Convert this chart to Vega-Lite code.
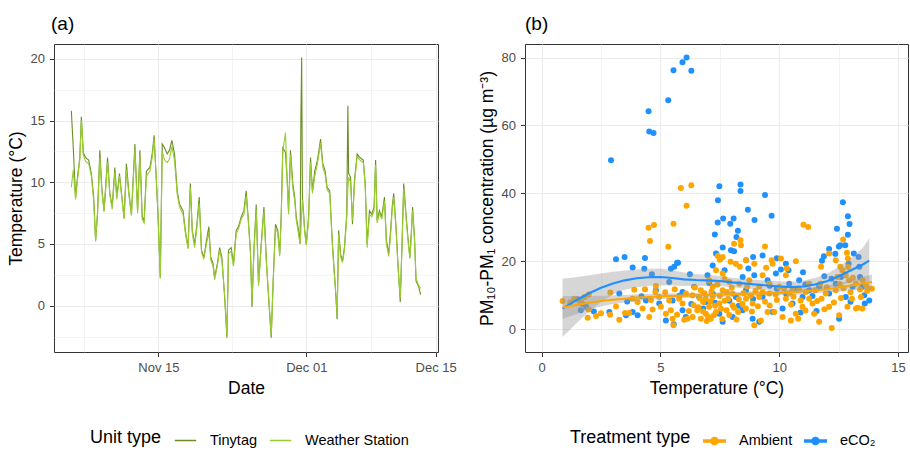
{
  "$schema": "https://vega.github.io/schema/vega-lite/v6.json",
  "background": "white",
  "padding": {"left": 6, "top": 14, "right": 0, "bottom": 0},
  "config": {
    "font": "Liberation Sans",
    "view": {"stroke": "#333333", "strokeWidth": 1},
    "axis": {
      "domain": false,
      "tickColor": "#333333",
      "tickSize": 4.5,
      "labelColor": "#4D4D4D",
      "labelFontSize": 13,
      "labelFont": "Liberation Sans",
      "titleFont": "Liberation Sans",
      "titleFontSize": 17.5,
      "titleFontWeight": "normal",
      "titleColor": "#000000",
      "gridColor": "#EBEBEB",
      "labelPadding": 5,
      "titlePadding": 5
    },
    "legend": {
      "orient": "none",
      "direction": "horizontal",
      "titleOrient": "left",
      "titleFontSize": 18,
      "titleFontWeight": "normal",
      "titleColor": "#000000",
      "labelFontSize": 14.5,
      "labelColor": "#000000",
      "labelFont": "Liberation Sans",
      "titleFont": "Liberation Sans",
      "symbolSize": 460,
      "columnPadding": 8,
      "labelOffset": 13,
      "titlePadding": 12
    },
    "title": {"anchor": "start", "frame": "group", "fontSize": 19, "fontWeight": "normal", "color": "#000000", "offset": 10, "font": "Liberation Sans"}
  },
  "datasets": {
    "temps": [
      {"date":"2019-11-05T14:00","Tinytag":15.8,"Weather Station":9.6},
      {"date":"2019-11-05T19:00","Tinytag":12.8,"Weather Station":11.0},
      {"date":"2019-11-06T01:00","Tinytag":8.8,"Weather Station":8.6},
      {"date":"2019-11-06T06:00","Tinytag":10.4,"Weather Station":10.2},
      {"date":"2019-11-06T12:00","Tinytag":12.0,"Weather Station":11.8},
      {"date":"2019-11-06T16:00","Tinytag":15.3,"Weather Station":15.0},
      {"date":"2019-11-06T21:00","Tinytag":12.4,"Weather Station":12.2},
      {"date":"2019-11-07T03:00","Tinytag":12.0,"Weather Station":11.7},
      {"date":"2019-11-07T11:00","Tinytag":11.8,"Weather Station":11.5},
      {"date":"2019-11-07T18:00","Tinytag":10.7,"Weather Station":10.5},
      {"date":"2019-11-08T00:00","Tinytag":8.8,"Weather Station":8.5},
      {"date":"2019-11-08T05:00","Tinytag":5.3,"Weather Station":5.2},
      {"date":"2019-11-08T10:00","Tinytag":7.4,"Weather Station":7.6},
      {"date":"2019-11-08T16:00","Tinytag":12.6,"Weather Station":12.0},
      {"date":"2019-11-08T21:00","Tinytag":9.6,"Weather Station":9.4},
      {"date":"2019-11-09T03:00","Tinytag":7.7,"Weather Station":7.6},
      {"date":"2019-11-09T12:00","Tinytag":12.0,"Weather Station":11.6},
      {"date":"2019-11-09T18:00","Tinytag":9.1,"Weather Station":9.0},
      {"date":"2019-11-10T00:00","Tinytag":8.0,"Weather Station":7.8},
      {"date":"2019-11-10T07:00","Tinytag":11.2,"Weather Station":10.8},
      {"date":"2019-11-10T12:00","Tinytag":8.8,"Weather Station":8.6},
      {"date":"2019-11-10T19:00","Tinytag":10.7,"Weather Station":10.5},
      {"date":"2019-11-11T07:00","Tinytag":7.1,"Weather Station":7.0},
      {"date":"2019-11-11T13:00","Tinytag":11.5,"Weather Station":11.0},
      {"date":"2019-11-11T19:00","Tinytag":9.3,"Weather Station":9.1},
      {"date":"2019-11-12T02:00","Tinytag":7.4,"Weather Station":7.3},
      {"date":"2019-11-12T11:00","Tinytag":13.1,"Weather Station":12.7},
      {"date":"2019-11-12T18:00","Tinytag":7.7,"Weather Station":7.5},
      {"date":"2019-11-13T00:00","Tinytag":12.6,"Weather Station":12.2},
      {"date":"2019-11-13T06:00","Tinytag":7.2,"Weather Station":7.0},
      {"date":"2019-11-13T11:00","Tinytag":6.9,"Weather Station":6.7},
      {"date":"2019-11-13T17:00","Tinytag":10.9,"Weather Station":10.5},
      {"date":"2019-11-14T02:00","Tinytag":11.2,"Weather Station":10.9},
      {"date":"2019-11-14T08:00","Tinytag":12.3,"Weather Station":12.0},
      {"date":"2019-11-14T13:00","Tinytag":13.8,"Weather Station":13.5},
      {"date":"2019-11-14T20:00","Tinytag":9.3,"Weather Station":9.5},
      {"date":"2019-11-14T23:00","Tinytag":7.4,"Weather Station":7.3},
      {"date":"2019-11-15T05:00","Tinytag":2.3,"Weather Station":2.2},
      {"date":"2019-11-15T10:00","Tinytag":13.1,"Weather Station":12.5},
      {"date":"2019-11-15T16:00","Tinytag":12.8,"Weather Station":11.8},
      {"date":"2019-11-15T23:00","Tinytag":12.3,"Weather Station":11.6},
      {"date":"2019-11-16T05:00","Tinytag":12.6,"Weather Station":11.9},
      {"date":"2019-11-16T11:00","Tinytag":13.4,"Weather Station":12.9},
      {"date":"2019-11-16T18:00","Tinytag":12.3,"Weather Station":11.7},
      {"date":"2019-11-17T01:00","Tinytag":9.3,"Weather Station":9.0},
      {"date":"2019-11-17T07:00","Tinytag":8.2,"Weather Station":8.0},
      {"date":"2019-11-17T16:00","Tinytag":7.7,"Weather Station":7.4},
      {"date":"2019-11-17T22:00","Tinytag":6.1,"Weather Station":5.9},
      {"date":"2019-11-18T05:00","Tinytag":4.7,"Weather Station":4.6},
      {"date":"2019-11-18T11:00","Tinytag":9.9,"Weather Station":9.6},
      {"date":"2019-11-18T16:00","Tinytag":6.1,"Weather Station":5.9},
      {"date":"2019-11-18T22:00","Tinytag":5.0,"Weather Station":4.7},
      {"date":"2019-11-19T04:00","Tinytag":6.6,"Weather Station":6.3},
      {"date":"2019-11-19T10:00","Tinytag":8.8,"Weather Station":8.3},
      {"date":"2019-11-19T16:00","Tinytag":4.5,"Weather Station":4.3},
      {"date":"2019-11-19T22:00","Tinytag":3.9,"Weather Station":3.8},
      {"date":"2019-11-20T05:00","Tinytag":5.3,"Weather Station":5.0},
      {"date":"2019-11-20T11:00","Tinytag":6.4,"Weather Station":6.0},
      {"date":"2019-11-20T16:00","Tinytag":3.9,"Weather Station":3.7},
      {"date":"2019-11-20T22:00","Tinytag":3.4,"Weather Station":3.2},
      {"date":"2019-11-21T02:00","Tinytag":2.3,"Weather Station":2.1},
      {"date":"2019-11-21T09:00","Tinytag":3.4,"Weather Station":3.2},
      {"date":"2019-11-21T15:00","Tinytag":4.7,"Weather Station":4.5},
      {"date":"2019-11-21T21:00","Tinytag":3.9,"Weather Station":3.6},
      {"date":"2019-11-22T04:00","Tinytag":0.7,"Weather Station":0.9},
      {"date":"2019-11-22T10:00","Tinytag":-2.6,"Weather Station":-2.4},
      {"date":"2019-11-22T14:00","Tinytag":4.5,"Weather Station":4.2},
      {"date":"2019-11-22T21:00","Tinytag":4.7,"Weather Station":4.4},
      {"date":"2019-11-23T03:00","Tinytag":3.4,"Weather Station":3.2},
      {"date":"2019-11-23T10:00","Tinytag":6.1,"Weather Station":5.8},
      {"date":"2019-11-23T16:00","Tinytag":6.4,"Weather Station":6.2},
      {"date":"2019-11-23T23:00","Tinytag":7.2,"Weather Station":7.0},
      {"date":"2019-11-24T06:00","Tinytag":7.7,"Weather Station":7.4},
      {"date":"2019-11-24T12:00","Tinytag":9.3,"Weather Station":8.9},
      {"date":"2019-11-24T17:00","Tinytag":7.2,"Weather Station":7.0},
      {"date":"2019-11-24T23:00","Tinytag":4.5,"Weather Station":4.3},
      {"date":"2019-11-25T03:00","Tinytag":-0.1,"Weather Station":0.2},
      {"date":"2019-11-25T08:00","Tinytag":4.5,"Weather Station":4.3},
      {"date":"2019-11-25T14:00","Tinytag":8.2,"Weather Station":7.8},
      {"date":"2019-11-25T20:00","Tinytag":1.8,"Weather Station":1.6},
      {"date":"2019-11-26T03:00","Tinytag":5.0,"Weather Station":4.8},
      {"date":"2019-11-26T10:00","Tinytag":8.0,"Weather Station":7.6},
      {"date":"2019-11-26T16:00","Tinytag":3.9,"Weather Station":3.7},
      {"date":"2019-11-26T22:00","Tinytag":0.7,"Weather Station":0.9},
      {"date":"2019-11-27T05:00","Tinytag":-2.6,"Weather Station":-2.4},
      {"date":"2019-11-27T10:00","Tinytag":2.0,"Weather Station":1.8},
      {"date":"2019-11-27T16:00","Tinytag":6.6,"Weather Station":6.3},
      {"date":"2019-11-27T22:00","Tinytag":6.1,"Weather Station":5.9},
      {"date":"2019-11-28T03:00","Tinytag":4.2,"Weather Station":4.0},
      {"date":"2019-11-28T07:00","Tinytag":7.4,"Weather Station":7.2},
      {"date":"2019-11-28T11:00","Tinytag":12.8,"Weather Station":12.5},
      {"date":"2019-11-28T18:00","Tinytag":12.4,"Weather Station":14.0},
      {"date":"2019-11-28T23:00","Tinytag":9.9,"Weather Station":9.6},
      {"date":"2019-11-29T02:00","Tinytag":7.7,"Weather Station":7.4},
      {"date":"2019-11-29T07:00","Tinytag":12.6,"Weather Station":12.2},
      {"date":"2019-11-29T13:00","Tinytag":9.9,"Weather Station":9.5},
      {"date":"2019-11-29T18:00","Tinytag":8.8,"Weather Station":8.5},
      {"date":"2019-11-29T22:00","Tinytag":7.2,"Weather Station":6.9},
      {"date":"2019-11-30T04:00","Tinytag":6.1,"Weather Station":5.8},
      {"date":"2019-11-30T08:00","Tinytag":5.0,"Weather Station":5.0},
      {"date":"2019-11-30T10:00","Tinytag":15.0,"Weather Station":6.0},
      {"date":"2019-11-30T12:00","Tinytag":20.1,"Weather Station":7.5},
      {"date":"2019-11-30T14:00","Tinytag":8.8,"Weather Station":8.6},
      {"date":"2019-11-30T20:00","Tinytag":6.1,"Weather Station":5.9},
      {"date":"2019-12-01T00:00","Tinytag":5.0,"Weather Station":4.9},
      {"date":"2019-12-01T06:00","Tinytag":7.2,"Weather Station":6.9},
      {"date":"2019-12-01T11:00","Tinytag":12.0,"Weather Station":11.6},
      {"date":"2019-12-01T16:00","Tinytag":9.3,"Weather Station":9.1},
      {"date":"2019-12-01T22:00","Tinytag":10.9,"Weather Station":10.5},
      {"date":"2019-12-02T05:00","Tinytag":11.8,"Weather Station":11.5},
      {"date":"2019-12-02T10:00","Tinytag":12.8,"Weather Station":12.5},
      {"date":"2019-12-02T13:00","Tinytag":13.5,"Weather Station":13.2},
      {"date":"2019-12-02T19:00","Tinytag":11.5,"Weather Station":11.2},
      {"date":"2019-12-03T01:00","Tinytag":10.9,"Weather Station":10.6},
      {"date":"2019-12-03T06:00","Tinytag":9.6,"Weather Station":9.4},
      {"date":"2019-12-03T13:00","Tinytag":9.3,"Weather Station":9.1},
      {"date":"2019-12-03T19:00","Tinytag":5.5,"Weather Station":5.3},
      {"date":"2019-12-04T00:00","Tinytag":3.1,"Weather Station":2.9},
      {"date":"2019-12-04T05:00","Tinytag":0.7,"Weather Station":0.9},
      {"date":"2019-12-04T08:00","Tinytag":-1.1,"Weather Station":-0.8},
      {"date":"2019-12-04T12:00","Tinytag":6.1,"Weather Station":5.8},
      {"date":"2019-12-04T17:00","Tinytag":4.2,"Weather Station":4.0},
      {"date":"2019-12-04T22:00","Tinytag":3.6,"Weather Station":3.5},
      {"date":"2019-12-05T03:00","Tinytag":4.7,"Weather Station":4.5},
      {"date":"2019-12-05T09:00","Tinytag":7.4,"Weather Station":7.1},
      {"date":"2019-12-05T12:00","Tinytag":16.2,"Weather Station":9.5},
      {"date":"2019-12-05T14:00","Tinytag":10.7,"Weather Station":10.4},
      {"date":"2019-12-05T19:00","Tinytag":10.4,"Weather Station":10.0},
      {"date":"2019-12-06T00:00","Tinytag":6.6,"Weather Station":6.9},
      {"date":"2019-12-06T05:00","Tinytag":10.1,"Weather Station":9.8},
      {"date":"2019-12-06T12:00","Tinytag":12.3,"Weather Station":12.1},
      {"date":"2019-12-06T19:00","Tinytag":12.0,"Weather Station":11.8},
      {"date":"2019-12-07T04:00","Tinytag":11.8,"Weather Station":11.6},
      {"date":"2019-12-07T09:00","Tinytag":9.9,"Weather Station":9.7},
      {"date":"2019-12-07T14:00","Tinytag":5.0,"Weather Station":4.7},
      {"date":"2019-12-07T20:00","Tinytag":7.7,"Weather Station":7.4},
      {"date":"2019-12-08T02:00","Tinytag":7.4,"Weather Station":7.2},
      {"date":"2019-12-08T08:00","Tinytag":8.0,"Weather Station":7.7},
      {"date":"2019-12-08T12:00","Tinytag":11.8,"Weather Station":11.4},
      {"date":"2019-12-08T16:00","Tinytag":6.9,"Weather Station":6.7},
      {"date":"2019-12-08T22:00","Tinytag":7.7,"Weather Station":7.5},
      {"date":"2019-12-09T04:00","Tinytag":7.2,"Weather Station":7.0},
      {"date":"2019-12-09T11:00","Tinytag":8.8,"Weather Station":8.5},
      {"date":"2019-12-09T16:00","Tinytag":5.3,"Weather Station":5.0},
      {"date":"2019-12-09T22:00","Tinytag":4.2,"Weather Station":4.0},
      {"date":"2019-12-10T03:00","Tinytag":6.1,"Weather Station":5.8},
      {"date":"2019-12-10T07:00","Tinytag":8.0,"Weather Station":7.7},
      {"date":"2019-12-10T11:00","Tinytag":9.1,"Weather Station":8.8},
      {"date":"2019-12-10T17:00","Tinytag":6.4,"Weather Station":6.2},
      {"date":"2019-12-10T22:00","Tinytag":3.4,"Weather Station":3.2},
      {"date":"2019-12-11T04:00","Tinytag":0.3,"Weather Station":0.6},
      {"date":"2019-12-11T09:00","Tinytag":5.5,"Weather Station":5.2},
      {"date":"2019-12-11T13:00","Tinytag":9.9,"Weather Station":9.5},
      {"date":"2019-12-11T19:00","Tinytag":7.4,"Weather Station":7.1},
      {"date":"2019-12-12T00:00","Tinytag":5.5,"Weather Station":5.3},
      {"date":"2019-12-12T05:00","Tinytag":3.9,"Weather Station":3.8},
      {"date":"2019-12-12T08:00","Tinytag":5.5,"Weather Station":5.3},
      {"date":"2019-12-12T12:00","Tinytag":8.0,"Weather Station":7.7},
      {"date":"2019-12-12T17:00","Tinytag":5.5,"Weather Station":5.3},
      {"date":"2019-12-12T21:00","Tinytag":2.0,"Weather Station":2.2},
      {"date":"2019-12-13T03:00","Tinytag":1.6,"Weather Station":1.7},
      {"date":"2019-12-13T09:00","Tinytag":0.9,"Weather Station":1.4}
    ],
    "pm": [
      {"t":2.92,"pm":49.8,"g":"eCO₂"},{"t":4.5,"pm":64.2,"g":"eCO₂"},{"t":4.53,"pm":58.2,"g":"eCO₂"},{"t":4.71,"pm":57.8,"g":"eCO₂"},
      {"t":5.33,"pm":67.4,"g":"eCO₂"},{"t":5.55,"pm":76.3,"g":"eCO₂"},{"t":5.93,"pm":78.6,"g":"eCO₂"},{"t":6.1,"pm":80,"g":"eCO₂"},
      {"t":6.3,"pm":76.1,"g":"eCO₂"},{"t":3.13,"pm":20.6,"g":"eCO₂"},{"t":3.49,"pm":21.3,"g":"eCO₂"},{"t":3.83,"pm":18.2,"g":"eCO₂"},
      {"t":4.35,"pm":21,"g":"eCO₂"},{"t":4.32,"pm":17.8,"g":"eCO₂"},{"t":4.64,"pm":16.2,"g":"eCO₂"},{"t":5.58,"pm":18.4,"g":"eCO₂"},
      {"t":5.74,"pm":19.6,"g":"eCO₂"},{"t":6.24,"pm":16.2,"g":"eCO₂"},{"t":7.48,"pm":42.1,"g":"eCO₂"},{"t":7.42,"pm":38,"g":"eCO₂"},
      {"t":7.29,"pm":27.9,"g":"eCO₂"},{"t":7.41,"pm":31.4,"g":"eCO₂"},{"t":7.64,"pm":32.6,"g":"eCO₂"},{"t":7.94,"pm":31.1,"g":"eCO₂"},
      {"t":8.08,"pm":32.6,"g":"eCO₂"},{"t":8.2,"pm":27.2,"g":"eCO₂"},{"t":8.26,"pm":29,"g":"eCO₂"},{"t":8.37,"pm":42.6,"g":"eCO₂"},
      {"t":8.37,"pm":40.7,"g":"eCO₂"},{"t":8.68,"pm":35.2,"g":"eCO₂"},{"t":8.96,"pm":32.2,"g":"eCO₂"},{"t":9.4,"pm":39.5,"g":"eCO₂"},
      {"t":9.68,"pm":33.4,"g":"eCO₂"},{"t":7.62,"pm":24.1,"g":"eCO₂"},{"t":7.34,"pm":22.3,"g":"eCO₂"},{"t":7.2,"pm":18.8,"g":"eCO₂"},
      {"t":7.97,"pm":23.3,"g":"eCO₂"},{"t":8.1,"pm":23,"g":"eCO₂"},{"t":8.61,"pm":20.3,"g":"eCO₂"},{"t":8.9,"pm":21.3,"g":"eCO₂"},
      {"t":9.3,"pm":21.7,"g":"eCO₂"},{"t":10.28,"pm":19.3,"g":"eCO₂"},{"t":10.39,"pm":17.4,"g":"eCO₂"},{"t":12.43,"pm":29.6,"g":"eCO₂"},
      {"t":12.68,"pm":37.4,"g":"eCO₂"},{"t":12.89,"pm":33.3,"g":"eCO₂"},{"t":12.96,"pm":31,"g":"eCO₂"},{"t":12.89,"pm":27.8,"g":"eCO₂"},
      {"t":12.51,"pm":24.4,"g":"eCO₂"},{"t":12.57,"pm":24.7,"g":"eCO₂"},{"t":12.78,"pm":24.7,"g":"eCO₂"},{"t":12.1,"pm":23.6,"g":"eCO₂"},
      {"t":11.88,"pm":21.5,"g":"eCO₂"},{"t":11.8,"pm":20.2,"g":"eCO₂"},{"t":12.36,"pm":22.2,"g":"eCO₂"},{"t":13.14,"pm":22.3,"g":"eCO₂"},
      {"t":13.34,"pm":21.3,"g":"eCO₂"},{"t":12.92,"pm":19.3,"g":"eCO₂"},{"t":13.4,"pm":15.4,"g":"eCO₂"},{"t":13.58,"pm":10,"g":"eCO₂"},
      {"t":13.6,"pm":7.6,"g":"eCO₂"},{"t":13.79,"pm":8.5,"g":"eCO₂"},{"t":12.52,"pm":3.1,"g":"eCO₂"},{"t":11.57,"pm":5.4,"g":"eCO₂"},
      {"t":10.07,"pm":17.6,"g":"eCO₂"},{"t":9.86,"pm":16.4,"g":"eCO₂"},{"t":9.51,"pm":14.4,"g":"eCO₂"},{"t":8.95,"pm":15.9,"g":"eCO₂"},
      {"t":8.46,"pm":15.4,"g":"eCO₂"},{"t":6.98,"pm":15.9,"g":"eCO₂"},{"t":7.05,"pm":13.6,"g":"eCO₂"},{"t":6.42,"pm":12.5,"g":"eCO₂"},
      {"t":5.93,"pm":11,"g":"eCO₂"},{"t":5.37,"pm":13.9,"g":"eCO₂"},{"t":4.81,"pm":11.5,"g":"eCO₂"},{"t":4.04,"pm":4.1,"g":"eCO₂"},
      {"t":3.83,"pm":5.1,"g":"eCO₂"},{"t":3.55,"pm":4.1,"g":"eCO₂"},{"t":3.27,"pm":10.5,"g":"eCO₂"},{"t":2.85,"pm":5.1,"g":"eCO₂"},
      {"t":1.87,"pm":6.6,"g":"eCO₂"},{"t":1.65,"pm":5.6,"g":"eCO₂"},{"t":1.7,"pm":7.5,"g":"eCO₂"},{"t":5.23,"pm":2.6,"g":"eCO₂"},
      {"t":5.56,"pm":1.5,"g":"eCO₂"},{"t":5.93,"pm":5.6,"g":"eCO₂"},{"t":6.07,"pm":3.6,"g":"eCO₂"},{"t":6.91,"pm":8,"g":"eCO₂"},
      {"t":7.48,"pm":4.6,"g":"eCO₂"},{"t":7.62,"pm":2.2,"g":"eCO₂"},{"t":8.04,"pm":3.6,"g":"eCO₂"},{"t":8.46,"pm":5.6,"g":"eCO₂"},
      {"t":8.88,"pm":3.1,"g":"eCO₂"},{"t":9.16,"pm":2.2,"g":"eCO₂"},{"t":9.72,"pm":5.1,"g":"eCO₂"},{"t":10.14,"pm":6.1,"g":"eCO₂"},
      {"t":10.56,"pm":7.6,"g":"eCO₂"},{"t":10.98,"pm":9.5,"g":"eCO₂"},{"t":11.26,"pm":11.5,"g":"eCO₂"},{"t":11.68,"pm":12.5,"g":"eCO₂"},
      {"t":12.1,"pm":10.5,"g":"eCO₂"},{"t":12.38,"pm":13.4,"g":"eCO₂"},{"t":12.8,"pm":9.5,"g":"eCO₂"},{"t":13.09,"pm":12.5,"g":"eCO₂"},
      {"t":13.37,"pm":18.4,"g":"eCO₂"},{"t":10.42,"pm":13.4,"g":"eCO₂"},{"t":10.84,"pm":14.4,"g":"eCO₂"},{"t":10.7,"pm":11.5,"g":"eCO₂"},
      {"t":8.6,"pm":11.5,"g":"eCO₂"},{"t":8.18,"pm":9.5,"g":"eCO₂"},{"t":7.2,"pm":10.5,"g":"eCO₂"},{"t":6.63,"pm":9.5,"g":"eCO₂"},
      {"t":5.51,"pm":8.5,"g":"eCO₂"},{"t":4.95,"pm":7.6,"g":"eCO₂"},{"t":4.39,"pm":8.5,"g":"eCO₂"},{"t":5.44,"pm":17.8,"g":"eCO₂"},
      {"t":5.7,"pm":19.6,"g":"eCO₂"},{"t":9.9,"pm":11.9,"g":"eCO₂"},{"t":11.1,"pm":13.2,"g":"eCO₂"},{"t":12.2,"pm":14.9,"g":"eCO₂"},
      {"t":6.8,"pm":6.1,"g":"eCO₂"},{"t":7.3,"pm":7.8,"g":"eCO₂"},{"t":7.9,"pm":8.4,"g":"eCO₂"},{"t":8.3,"pm":6.9,"g":"eCO₂"},
      {"t":8.9,"pm":8.9,"g":"eCO₂"},{"t":9.3,"pm":9.6,"g":"eCO₂"},{"t":9.6,"pm":12.8,"g":"eCO₂"},{"t":10.3,"pm":10.3,"g":"eCO₂"},
      {"t":10.9,"pm":4.9,"g":"eCO₂"},{"t":11.4,"pm":9.8,"g":"eCO₂"},{"t":11.9,"pm":15.6,"g":"eCO₂"},{"t":12.6,"pm":15.4,"g":"eCO₂"},
      {"t":13.0,"pm":8.1,"g":"eCO₂"},{"t":13.5,"pm":12.6,"g":"eCO₂"},{"t":6.3,"pm":7.4,"g":"eCO₂"},{"t":5.8,"pm":9.9,"g":"eCO₂"},
      {"t":4.2,"pm":9.7,"g":"eCO₂"},{"t":3.6,"pm":8.2,"g":"eCO₂"},{"t":2.2,"pm":5.2,"g":"eCO₂"},{"t":1.5,"pm":8.8,"g":"eCO₂"},
      {"t":7.7,"pm":17.4,"g":"eCO₂"},{"t":8.7,"pm":17.9,"g":"eCO₂"},{"t":9.9,"pm":20.9,"g":"eCO₂"},{"t":11.0,"pm":16.8,"g":"eCO₂"},
      {"t":5.86,"pm":41.6,"g":"Ambient"},{"t":6.3,"pm":42.4,"g":"Ambient"},{"t":6.1,"pm":36.4,"g":"Ambient"},{"t":5.55,"pm":31.1,"g":"Ambient"},
      {"t":4.5,"pm":29.9,"g":"Ambient"},{"t":4.73,"pm":30.7,"g":"Ambient"},{"t":4.56,"pm":26,"g":"Ambient"},{"t":5.33,"pm":24.3,"g":"Ambient"},
      {"t":4.35,"pm":11.8,"g":"Ambient"},{"t":4.81,"pm":12.7,"g":"Ambient"},{"t":4.79,"pm":11,"g":"Ambient"},{"t":2.89,"pm":10.8,"g":"Ambient"},
      {"t":3.13,"pm":6.7,"g":"Ambient"},{"t":2.88,"pm":4.3,"g":"Ambient"},{"t":3.27,"pm":2.8,"g":"Ambient"},{"t":3.51,"pm":4.8,"g":"Ambient"},
      {"t":3.69,"pm":4.8,"g":"Ambient"},{"t":3.83,"pm":9,"g":"Ambient"},{"t":4.04,"pm":8,"g":"Ambient"},{"t":4.25,"pm":6.1,"g":"Ambient"},
      {"t":4.53,"pm":3.6,"g":"Ambient"},{"t":4.67,"pm":5.8,"g":"Ambient"},{"t":5.02,"pm":6.6,"g":"Ambient"},{"t":5.23,"pm":4.6,"g":"Ambient"},
      {"t":5.44,"pm":5.6,"g":"Ambient"},{"t":5.51,"pm":3.1,"g":"Ambient"},{"t":5.55,"pm":1.2,"g":"Ambient"},{"t":4.95,"pm":9.5,"g":"Ambient"},
      {"t":5.37,"pm":8.5,"g":"Ambient"},{"t":5.93,"pm":7.6,"g":"Ambient"},{"t":6.14,"pm":3.1,"g":"Ambient"},{"t":6.35,"pm":3.6,"g":"Ambient"},
      {"t":6.55,"pm":5.6,"g":"Ambient"},{"t":6.7,"pm":3.1,"g":"Ambient"},{"t":6.91,"pm":4.6,"g":"Ambient"},{"t":7.05,"pm":6.6,"g":"Ambient"},
      {"t":7.12,"pm":3.1,"g":"Ambient"},{"t":7.34,"pm":5.1,"g":"Ambient"},{"t":6.8,"pm":8,"g":"Ambient"},{"t":7.2,"pm":9.5,"g":"Ambient"},
      {"t":7.48,"pm":7.6,"g":"Ambient"},{"t":7.78,"pm":5.6,"g":"Ambient"},{"t":8.04,"pm":7.1,"g":"Ambient"},{"t":8.27,"pm":5.1,"g":"Ambient"},
      {"t":8.6,"pm":6.1,"g":"Ambient"},{"t":8.88,"pm":7.6,"g":"Ambient"},{"t":8.95,"pm":1.2,"g":"Ambient"},{"t":9.23,"pm":2.6,"g":"Ambient"},
      {"t":9.51,"pm":5.1,"g":"Ambient"},{"t":9.79,"pm":5.1,"g":"Ambient"},{"t":10.14,"pm":3.6,"g":"Ambient"},{"t":10.49,"pm":2.6,"g":"Ambient"},
      {"t":10.7,"pm":4.6,"g":"Ambient"},{"t":10.98,"pm":6.6,"g":"Ambient"},{"t":11.47,"pm":4.6,"g":"Ambient"},{"t":11.68,"pm":2.2,"g":"Ambient"},
      {"t":12.21,"pm":0.4,"g":"Ambient"},{"t":12.1,"pm":6.6,"g":"Ambient"},{"t":12.52,"pm":4.1,"g":"Ambient"},{"t":12.87,"pm":6.6,"g":"Ambient"},
      {"t":13.23,"pm":6.1,"g":"Ambient"},{"t":13.06,"pm":9,"g":"Ambient"},{"t":13.44,"pm":9.5,"g":"Ambient"},{"t":13.76,"pm":12,"g":"Ambient"},
      {"t":13.65,"pm":13,"g":"Ambient"},{"t":13.51,"pm":14.4,"g":"Ambient"},{"t":12.69,"pm":26.4,"g":"Ambient"},{"t":12.85,"pm":22.5,"g":"Ambient"},
      {"t":12.89,"pm":20.8,"g":"Ambient"},{"t":12.38,"pm":20.3,"g":"Ambient"},{"t":12.57,"pm":18.4,"g":"Ambient"},{"t":12.66,"pm":17.4,"g":"Ambient"},
      {"t":12.8,"pm":15.9,"g":"Ambient"},{"t":12.94,"pm":14.4,"g":"Ambient"},{"t":12.45,"pm":15.4,"g":"Ambient"},{"t":12.1,"pm":22.3,"g":"Ambient"},
      {"t":11.76,"pm":18.4,"g":"Ambient"},{"t":11.73,"pm":13.4,"g":"Ambient"},{"t":11.52,"pm":11.5,"g":"Ambient"},{"t":11.12,"pm":11,"g":"Ambient"},
      {"t":11.26,"pm":9,"g":"Ambient"},{"t":11.02,"pm":30.8,"g":"Ambient"},{"t":11.22,"pm":30.1,"g":"Ambient"},{"t":10.7,"pm":20,"g":"Ambient"},
      {"t":10.32,"pm":17.9,"g":"Ambient"},{"t":10.28,"pm":15.9,"g":"Ambient"},{"t":10.07,"pm":20.8,"g":"Ambient"},{"t":9.72,"pm":19.3,"g":"Ambient"},
      {"t":9.68,"pm":20.3,"g":"Ambient"},{"t":9.4,"pm":24.4,"g":"Ambient"},{"t":9.3,"pm":15.9,"g":"Ambient"},{"t":8.95,"pm":19.3,"g":"Ambient"},
      {"t":8.6,"pm":20.3,"g":"Ambient"},{"t":8.37,"pm":26.2,"g":"Ambient"},{"t":8.39,"pm":24.7,"g":"Ambient"},{"t":8.1,"pm":25.2,"g":"Ambient"},
      {"t":8.17,"pm":19.3,"g":"Ambient"},{"t":8.34,"pm":18.4,"g":"Ambient"},{"t":7.62,"pm":21.3,"g":"Ambient"},{"t":7.41,"pm":21.6,"g":"Ambient"},
      {"t":7.62,"pm":16.4,"g":"Ambient"},{"t":7.34,"pm":17.4,"g":"Ambient"},{"t":7.05,"pm":14.4,"g":"Ambient"},{"t":7.9,"pm":13.9,"g":"Ambient"},
      {"t":8.32,"pm":13.4,"g":"Ambient"},{"t":8.74,"pm":14.4,"g":"Ambient"},{"t":9.16,"pm":12.5,"g":"Ambient"},{"t":9.58,"pm":13.4,"g":"Ambient"},
      {"t":10,"pm":12.5,"g":"Ambient"},{"t":10.42,"pm":10.5,"g":"Ambient"},{"t":10.84,"pm":12,"g":"Ambient"},{"t":9.58,"pm":10.5,"g":"Ambient"},
      {"t":9.16,"pm":9.5,"g":"Ambient"},{"t":8.6,"pm":9,"g":"Ambient"},{"t":8.04,"pm":10.5,"g":"Ambient"},{"t":7.62,"pm":11.5,"g":"Ambient"},
      {"t":7.2,"pm":12.5,"g":"Ambient"},{"t":6.7,"pm":11.5,"g":"Ambient"},{"t":6.35,"pm":10,"g":"Ambient"},{"t":6.07,"pm":10.5,"g":"Ambient"},
      {"t":5.79,"pm":9,"g":"Ambient"},{"t":6.91,"pm":9,"g":"Ambient"},{"t":10.28,"pm":9,"g":"Ambient"},{"t":10.56,"pm":11.5,"g":"Ambient"},
      {"t":11.26,"pm":13.4,"g":"Ambient"},{"t":11.96,"pm":10.5,"g":"Ambient"},{"t":12.38,"pm":11.5,"g":"Ambient"},{"t":13.23,"pm":13.4,"g":"Ambient"},
      {"t":0.88,"pm":8.3,"g":"Ambient"},{"t":1.37,"pm":9,"g":"Ambient"},{"t":1.58,"pm":8.5,"g":"Ambient"},{"t":1.8,"pm":9.5,"g":"Ambient"},
      {"t":1.98,"pm":10.2,"g":"Ambient"},{"t":1.98,"pm":5.8,"g":"Ambient"},{"t":1.94,"pm":3.4,"g":"Ambient"},{"t":2.29,"pm":3.9,"g":"Ambient"},
      {"t":1.68,"pm":7.8,"g":"Ambient"},{"t":11.78,"pm":9,"g":"Ambient"},{"t":13.9,"pm":11.9,"g":"Ambient"},{"t":13.5,"pm":6.1,"g":"Ambient"},
      {"t":13.3,"pm":6.3,"g":"Ambient"},{"t":12.3,"pm":7.9,"g":"Ambient"},{"t":6.6,"pm":6.5,"g":"Ambient"},{"t":6.8,"pm":5.2,"g":"Ambient"},
      {"t":7.0,"pm":3.8,"g":"Ambient"},{"t":7.1,"pm":8.2,"g":"Ambient"},{"t":7.3,"pm":6.9,"g":"Ambient"},{"t":7.5,"pm":9.8,"g":"Ambient"},
      {"t":7.7,"pm":8.4,"g":"Ambient"},{"t":7.9,"pm":4.2,"g":"Ambient"},{"t":8.1,"pm":6.3,"g":"Ambient"},{"t":8.3,"pm":8.8,"g":"Ambient"},
      {"t":6.4,"pm":7.1,"g":"Ambient"},{"t":6.2,"pm":5.4,"g":"Ambient"},{"t":6.0,"pm":2.8,"g":"Ambient"},{"t":5.7,"pm":4.3,"g":"Ambient"},
      {"t":7.6,"pm":3.0,"g":"Ambient"},{"t":7.8,"pm":11.0,"g":"Ambient"},{"t":8.5,"pm":10.7,"g":"Ambient"},{"t":8.8,"pm":9.9,"g":"Ambient"},
      {"t":9.0,"pm":11.3,"g":"Ambient"},{"t":9.4,"pm":8.1,"g":"Ambient"},{"t":9.9,"pm":8.6,"g":"Ambient"},{"t":10.5,"pm":7.3,"g":"Ambient"},
      {"t":10.9,"pm":8.5,"g":"Ambient"},{"t":11.4,"pm":7.6,"g":"Ambient"},{"t":11.9,"pm":5.9,"g":"Ambient"},{"t":12.6,"pm":9.2,"g":"Ambient"},
      {"t":13.0,"pm":10.9,"g":"Ambient"},{"t":13.7,"pm":11.3,"g":"Ambient"},
      {"t":6.45,"pm":12.3,"g":"Ambient"},{"t":6.65,"pm":9.1,"g":"Ambient"},{"t":6.85,"pm":10.6,"g":"Ambient"},{"t":6.95,"pm":2.4,"g":"Ambient"},
      {"t":7.15,"pm":11.2,"g":"Ambient"},{"t":7.25,"pm":4.1,"g":"Ambient"},{"t":7.4,"pm":13.2,"g":"Ambient"},{"t":7.55,"pm":6.0,"g":"Ambient"},
      {"t":7.7,"pm":14.8,"g":"Ambient"},{"t":7.85,"pm":8.9,"g":"Ambient"},{"t":8.0,"pm":12.2,"g":"Ambient"},{"t":8.2,"pm":2.9,"g":"Ambient"},
      {"t":8.45,"pm":7.4,"g":"Ambient"},{"t":8.65,"pm":12.6,"g":"Ambient"},{"t":8.85,"pm":5.2,"g":"Ambient"},{"t":9.1,"pm":6.8,"g":"Ambient"},
      {"t":9.3,"pm":10.9,"g":"Ambient"},{"t":9.6,"pm":7.0,"g":"Ambient"},{"t":9.85,"pm":10.2,"g":"Ambient"},{"t":10.2,"pm":12.0,"g":"Ambient"},
      {"t":10.6,"pm":9.6,"g":"Ambient"},{"t":10.8,"pm":3.1,"g":"Ambient"},{"t":11.1,"pm":5.5,"g":"Ambient"},{"t":11.6,"pm":8.3,"g":"Ambient"},
      {"t":12.0,"pm":12.4,"g":"Ambient"},{"t":12.7,"pm":12.1,"g":"Ambient"},{"t":13.1,"pm":15.2,"g":"Ambient"},{"t":13.4,"pm":11.7,"g":"Ambient"},
      {"t":5.2,"pm":10.9,"g":"Ambient"},{"t":5.6,"pm":11.8,"g":"Ambient"},{"t":4.6,"pm":8.6,"g":"Ambient"},{"t":3.9,"pm":11.6,"g":"Ambient"},
      {"t":2.5,"pm":4.7,"g":"Ambient"},{"t":1.2,"pm":7.9,"g":"Ambient"},{"t":9.45,"pm":18.1,"g":"Ambient"},{"t":7.95,"pm":19.9,"g":"Ambient"},
      {"t":7.5,"pm":20.5,"g":"Ambient"},{"t":12.9,"pm":18.3,"g":"Ambient"},{"t":12.55,"pm":13.3,"g":"Ambient"}
    ],
    "smooth": [
      {"t":0.88,"fit":6.1,"lo":-2.3,"hi":14.9,"g":"eCO₂"},{"t":1.5,"fit":8.7,"lo":2.0,"hi":15.4,"g":"eCO₂"},
      {"t":2.0,"fit":10.6,"lo":5.2,"hi":15.9,"g":"eCO₂"},{"t":2.5,"fit":12.2,"lo":8.0,"hi":16.4,"g":"eCO₂"},
      {"t":3.0,"fit":13.5,"lo":10.2,"hi":16.9,"g":"eCO₂"},{"t":3.5,"fit":14.4,"lo":11.6,"hi":17.3,"g":"eCO₂"},
      {"t":4.0,"fit":15.0,"lo":12.4,"hi":17.6,"g":"eCO₂"},{"t":4.5,"fit":15.3,"lo":12.8,"hi":17.8,"g":"eCO₂"},
      {"t":5.0,"fit":15.4,"lo":12.9,"hi":17.9,"g":"eCO₂"},{"t":5.5,"fit":15.1,"lo":12.9,"hi":17.4,"g":"eCO₂"},
      {"t":6.0,"fit":14.7,"lo":12.7,"hi":16.7,"g":"eCO₂"},{"t":6.5,"fit":14.5,"lo":12.7,"hi":16.3,"g":"eCO₂"},
      {"t":7.0,"fit":14.4,"lo":12.8,"hi":16.0,"g":"eCO₂"},{"t":7.5,"fit":14.2,"lo":12.7,"hi":15.7,"g":"eCO₂"},
      {"t":8.0,"fit":13.8,"lo":12.4,"hi":15.2,"g":"eCO₂"},{"t":8.5,"fit":13.5,"lo":12.1,"hi":14.9,"g":"eCO₂"},
      {"t":9.0,"fit":13.2,"lo":11.8,"hi":14.6,"g":"eCO₂"},{"t":9.5,"fit":12.9,"lo":11.5,"hi":14.3,"g":"eCO₂"},
      {"t":10.0,"fit":12.6,"lo":11.1,"hi":14.1,"g":"eCO₂"},{"t":10.5,"fit":12.4,"lo":10.8,"hi":14.0,"g":"eCO₂"},
      {"t":11.0,"fit":12.6,"lo":10.9,"hi":14.3,"g":"eCO₂"},{"t":11.5,"fit":13.2,"lo":11.3,"hi":15.1,"g":"eCO₂"},
      {"t":12.0,"fit":14.1,"lo":11.9,"hi":16.3,"g":"eCO₂"},{"t":12.5,"fit":15.6,"lo":12.9,"hi":18.3,"g":"eCO₂"},
      {"t":13.0,"fit":17.3,"lo":13.8,"hi":20.8,"g":"eCO₂"},{"t":13.5,"fit":19.0,"lo":14.2,"hi":23.8,"g":"eCO₂"},
      {"t":13.79,"fit":20.2,"lo":13.9,"hi":26.8,"g":"eCO₂"},
      {"t":0.88,"fit":6.4,"lo":3.0,"hi":9.8,"g":"Ambient"},{"t":1.5,"fit":7.2,"lo":4.6,"hi":9.8,"g":"Ambient"},
      {"t":2.0,"fit":7.8,"lo":5.8,"hi":9.8,"g":"Ambient"},{"t":2.5,"fit":8.3,"lo":6.7,"hi":9.9,"g":"Ambient"},
      {"t":3.0,"fit":8.7,"lo":7.4,"hi":10.0,"g":"Ambient"},{"t":3.5,"fit":9.0,"lo":7.9,"hi":10.1,"g":"Ambient"},
      {"t":4.0,"fit":9.3,"lo":8.3,"hi":10.3,"g":"Ambient"},{"t":4.5,"fit":9.5,"lo":8.6,"hi":10.4,"g":"Ambient"},
      {"t":5.0,"fit":9.7,"lo":8.9,"hi":10.5,"g":"Ambient"},{"t":6.0,"fit":9.9,"lo":9.2,"hi":10.6,"g":"Ambient"},
      {"t":7.0,"fit":10.1,"lo":9.4,"hi":10.8,"g":"Ambient"},{"t":8.0,"fit":10.3,"lo":9.6,"hi":11.0,"g":"Ambient"},
      {"t":9.0,"fit":10.5,"lo":9.8,"hi":11.2,"g":"Ambient"},{"t":10.0,"fit":10.7,"lo":10.0,"hi":11.4,"g":"Ambient"},
      {"t":11.0,"fit":11.1,"lo":10.3,"hi":11.9,"g":"Ambient"},{"t":12.0,"fit":11.8,"lo":10.8,"hi":12.8,"g":"Ambient"},
      {"t":13.0,"fit":12.9,"lo":11.4,"hi":14.4,"g":"Ambient"},{"t":13.9,"fit":13.9,"lo":11.7,"hi":16.1,"g":"Ambient"}
    ]
  },
  "hconcat": [
    {
      "width": 384,
      "height": 308,
      "title": {"text": "(a)", "dx": -3},
      "data": {"name": "temps"},
      "transform": [{"fold": ["Tinytag", "Weather Station"], "as": ["unit", "temp"]}],
      "mark": {"type": "line", "strokeWidth": 1.1},
      "encoding": {
        "x": {
          "field": "date", "type": "temporal", "title": "Date",
          "scale": {"domain": [{"year": 2019, "month": 11, "date": 3, "hours": 17}, {"year": 2019, "month": 12, "date": 15, "hours": 6}]},
          "axis": {
            "values": [
              {"year": 2019, "month": 11, "date": 7},
              {"year": 2019, "month": 11, "date": 15},
              {"year": 2019, "month": 11, "date": 23},
              {"year": 2019, "month": 12, "date": 1},
              {"year": 2019, "month": 12, "date": 8},
              {"year": 2019, "month": 12, "date": 15}
            ],
            "labelExpr": "date(datum.value) == 1 || date(datum.value) == 15 ? timeFormat(datum.value, '%b %d') : ''",
            "tickOpacity": {"condition": {"test": "date(datum.value) == 1 || date(datum.value) == 15", "value": 1}, "value": 0},
            "gridWidth": {"condition": {"test": "date(datum.value) == 1 || date(datum.value) == 15", "value": 1.1}, "value": 0.55}
          }
        },
        "y": {
          "field": "temp", "type": "quantitative", "title": "Temperature (°C)",
          "scale": {"domain": [-3.75, 21.2], "nice": false, "zero": false},
          "axis": {
            "values": [-2.5, 0, 2.5, 5, 7.5, 10, 12.5, 15, 17.5, 20],
            "labelExpr": "datum.value % 5 === 0 ? datum.label : ''",
            "tickOpacity": {"condition": {"test": "datum.value % 5 === 0", "value": 1}, "value": 0},
            "gridWidth": {"condition": {"test": "datum.value % 5 === 0", "value": 1.1}, "value": 0.55}
          }
        },
        "color": {
          "field": "unit", "type": "nominal", "title": "Unit type",
          "scale": {"domain": ["Tinytag", "Weather Station"], "range": ["#6B8E23", "#9ACD32"]},
          "legend": {"symbolType": "stroke", "symbolStrokeWidth": 1.5, "legendX": 36, "legendY": 385}
        }
      }
    },
    {
      "width": 383,
      "height": 308,
      "title": {"text": "(b)"},
      "layer": [
        {
          "data": {"name": "pm"},
          "mark": {"type": "point", "filled": true, "size": 36, "opacity": 1},
          "encoding": {
            "x": {
              "field": "t", "type": "quantitative", "title": "Temperature (°C)",
              "scale": {"domain": [-0.7, 15.42], "nice": false, "zero": false},
              "axis": {
                "values": [0, 2.5, 5, 7.5, 10, 12.5, 15],
                "labelExpr": "datum.value % 5 === 0 ? datum.label : ''",
                "tickOpacity": {"condition": {"test": "datum.value % 5 === 0", "value": 1}, "value": 0},
                "gridWidth": {"condition": {"test": "datum.value % 5 === 0", "value": 1.1}, "value": 0.55}
              }
            },
            "y": {
              "field": "pm", "type": "quantitative", "title": "PM₁₀-PM₁ concentration (µg m⁻³)",
              "scale": {"domain": [-6.7, 84.0], "nice": false, "zero": false},
              "axis": {
                "values": [0, 10, 20, 30, 40, 50, 60, 70, 80],
                "labelExpr": "datum.value % 20 === 0 ? datum.label : ''",
                "tickOpacity": {"condition": {"test": "datum.value % 20 === 0", "value": 1}, "value": 0},
                "gridWidth": {"condition": {"test": "datum.value % 20 === 0", "value": 1.1}, "value": 0.55}
              }
            },
            "color": {
              "field": "g", "type": "nominal", "title": "Treatment type",
              "scale": {"domain": ["Ambient", "eCO₂"], "range": ["#FFA500", "#1E90FF"]},
              "legend": {"symbolType": "M-1,-0.09L1,-0.09L1,0.09L-1,0.09Z M0.33,0A0.33,0.33 0 1,1 -0.33,0A0.33,0.33 0 1,1 0.33,0Z", "legendX": 45, "legendY": 385}
            }
          }
        },
        {
          "data": {"name": "smooth"},
          "mark": {"type": "area", "color": "#999999", "opacity": 0.4},
          "encoding": {
            "x": {"field": "t", "type": "quantitative"},
            "y": {"field": "lo", "type": "quantitative"},
            "y2": {"field": "hi"},
            "detail": {"field": "g", "type": "nominal"}
          }
        },
        {
          "data": {"name": "smooth"},
          "mark": {"type": "line", "strokeWidth": 2.1},
          "encoding": {
            "x": {"field": "t", "type": "quantitative"},
            "y": {"field": "fit", "type": "quantitative"},
            "color": {"field": "g", "type": "nominal"}
          }
        }
      ]
    }
  ],
  "spacing": 87,
  "bounds": "flush",
  "resolve": {"scale": {"color": "independent"}, "legend": {"color": "independent"}}
}
